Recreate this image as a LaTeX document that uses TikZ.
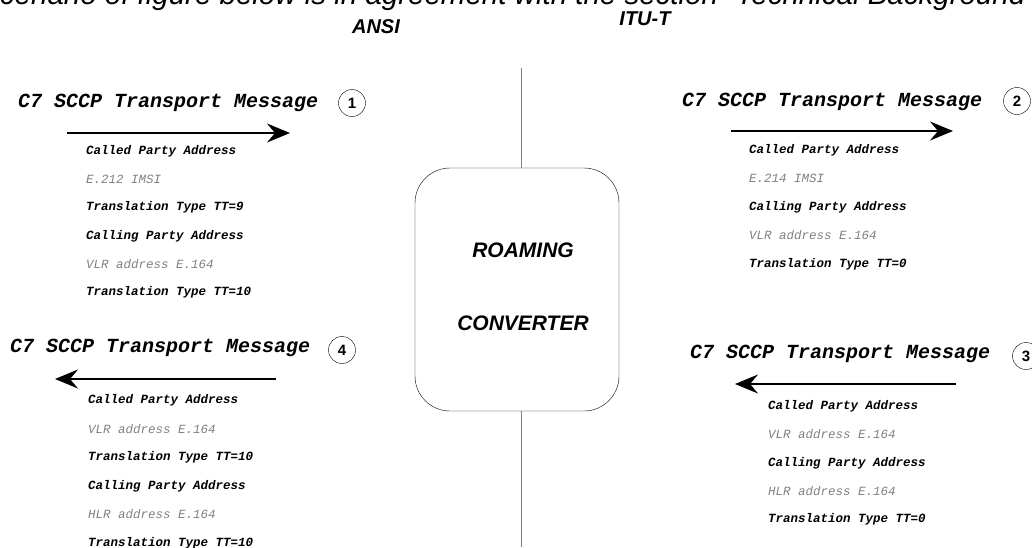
\documentclass[tikz,border=0pt]{standalone}
\usepackage{fontspec}
\setmainfont{Liberation Sans}
\setmonofont{Liberation Mono}
\usetikzlibrary{arrows.meta}

\begin{document}
\begin{tikzpicture}[x=1pt,y=-1pt,
  hd/.style={font=\fontsize{20}{20}\selectfont\ttfamily\bfseries\itshape,anchor=west,inner sep=0},
  fld/.style={font=\fontsize{12.5}{12.5}\selectfont\ttfamily\bfseries\itshape,anchor=west,inner sep=0},
  val/.style={font=\fontsize{12.5}{12.5}\selectfont\ttfamily\itshape,text=gray,anchor=west,inner sep=0},
  num/.style={draw,circle,minimum size=27pt,inner sep=0,font=\fontsize{15}{15}\selectfont\bfseries},
  msg/.style={line width=1.4pt,-{Stealth[length=23pt,width=19pt,inset=8pt]}},
  big/.style={font=\fontsize{20}{20}\selectfont\bfseries\itshape,inner sep=0}]

\useasboundingbox (0,0) rectangle (1032,547);
\clip (0,0) rectangle (1032,547);

\node[anchor=base west,inner sep=0,font=\fontsize{29.5}{29.5}\selectfont\itshape] (hdr) at (-15,4)
  {scenario of figure below is in agreement with the section ``Technical Background''};

\node[big] (ansi) at (376,27) {ANSI};
\node[big] (itu) at (645,19) {ITU-T};

% roaming converter in the middle
\node[draw,rounded corners=35pt,minimum width=204pt,minimum height=243pt,inner sep=0] (conv) at (517,289.5) {};
\node[big,font=\fontsize{21}{21}\selectfont\bfseries\itshape] (roam) at (523,250) {ROAMING};
\node[big,font=\fontsize{21}{21}\selectfont\bfseries\itshape] (cnv) at (523,323) {CONVERTER};

\coordinate (t) at (521,68);
\coordinate (b) at (521,547);
\draw[gray,line width=0.8pt] (t) -- (t |- conv.north);
\draw[gray,line width=0.8pt] (b |- conv.south) -- (b);


% ANSI side, message 1
\begin{scope}
\node[hd] (m1) at (18,103) {C7 SCCP Transport Message};
\node[num] (n1) at (352,103) {1};
\coordinate (a1) at (67,133);
\coordinate (e1) at (290,133);
\draw[msg] (a1) -- (e1);

\node[fld] (p11) at (86,151) {Called Party Address};
\node[val] (p12) at (86,179) {E.212 IMSI};
\node[fld] (p13) at (86,207) {Translation Type TT=9};
\node[fld] (p14) at (86,236) {Calling Party Address};
\node[val] (p15) at (86,264) {VLR address E.164};
\node[fld] (p16) at (86,292) {Translation Type TT=10};
\end{scope}

% ANSI side, message 4
\begin{scope}
\node[hd] (m4) at (10,348) {C7 SCCP Transport Message};
\node[num] (n4) at (342,350) {4};
\coordinate (a4) at (276,379);
\coordinate (e4) at (55,379);
\draw[msg] (a4) -- (e4);

\node[fld] (p41) at (88,400) {Called Party Address};
\node[val] (p42) at (88,429) {VLR address E.164};
\node[fld] (p43) at (88,457) {Translation Type TT=10};
\node[fld] (p44) at (88,486) {Calling Party Address};
\node[val] (p45) at (88,514) {HLR address E.164};
\node[fld] (p46) at (88,543) {Translation Type TT=10};
\end{scope}

% ITU-T side, message 2
\begin{scope}
\node[hd] (m2) at (682,102) {C7 SCCP Transport Message};
\node[num] (n2) at (1017,101) {2};
\coordinate (a2) at (731,131);
\coordinate (e2) at (953,131);
\draw[msg] (a2) -- (e2);

\node[fld] (p21) at (749,150) {Called Party Address};
\node[val] (p22) at (749,178) {E.214 IMSI};
\node[fld] (p23) at (749,207) {Calling Party Address};
\node[val] (p24) at (749,235) {VLR address E.164};
\node[fld] (p25) at (749,264) {Translation Type TT=0};
\end{scope}

% ITU-T side, message 3
\begin{scope}
\node[hd] (m3) at (690,354) {C7 SCCP Transport Message};
\node[num] (n3) at (1026,356) {3};
\coordinate (a3) at (956,384);
\coordinate (e3) at (735,384);
\draw[msg] (a3) -- (e3);

\node[fld] (p31) at (768,406) {Called Party Address};
\node[val] (p32) at (768,434) {VLR address E.164};
\node[fld] (p33) at (768,463) {Calling Party Address};
\node[val] (p34) at (768,491) {HLR address E.164};
\node[fld] (p35) at (768,519) {Translation Type TT=0};
\end{scope}

\end{tikzpicture}
\end{document}
